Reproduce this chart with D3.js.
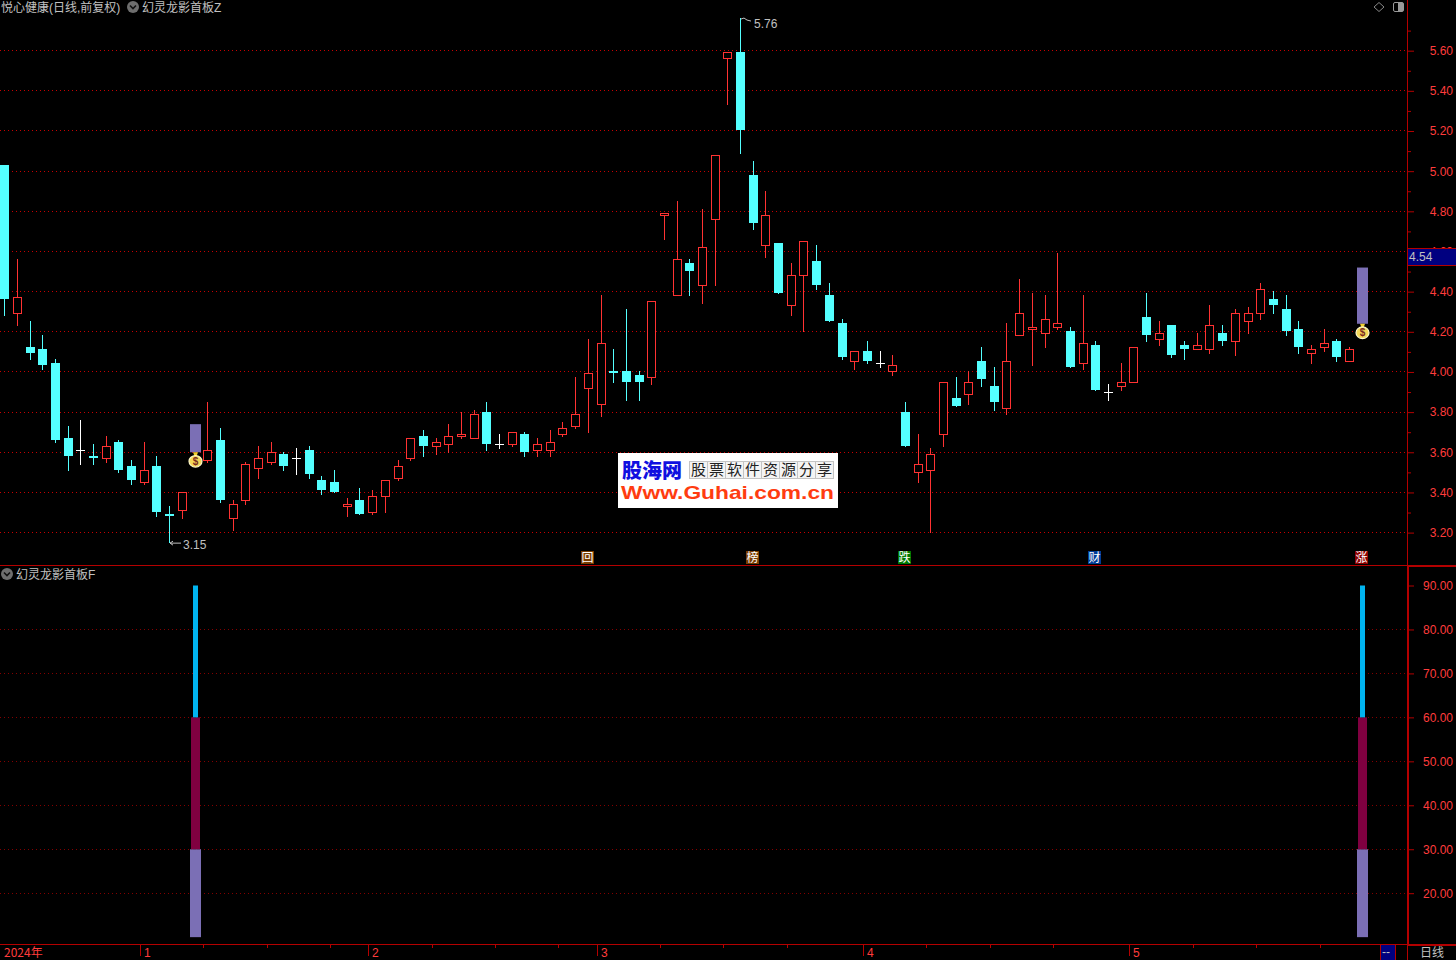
<!DOCTYPE html>
<html><head><meta charset="utf-8">
<script src="https://cdn.jsdelivr.net/npm/d3@7/dist/d3.min.js"></script>
<style>
html,body{margin:0;padding:0;background:#000;overflow:hidden}
svg{display:block}
text{font-family:"Liberation Sans","Noto Sans CJK SC",sans-serif;font-size:12px}
.cjk{font-family:"Noto Sans CJK SC",sans-serif}
</style></head><body>
<svg id="c" width="1456" height="960"></svg>
<script>
const stockTitle="悦心健康(日线,前复权)", upperName="幻灵龙影首板Z", lowerName="幻灵龙影首板F";
const opens=[5.03,4.29,4.12,4.11,4.04,3.67,3.61,3.58,3.57,3.65,
3.53,3.45,3.53,3.29,3.31,null,3.56,3.66,3.27,3.36,
3.52,3.55,3.59,3.57,3.61,3.46,3.45,3.33,3.36,3.30,
3.38,3.47,3.57,3.68,3.63,3.64,3.68,3.67,3.80,3.64,
3.64,3.69,3.61,3.61,3.69,3.73,3.92,3.84,4.00,4.00,
3.98,3.97,4.78,4.38,4.54,4.43,4.76,5.56,5.59,4.98,
4.63,4.64,4.33,4.48,4.55,4.38,4.24,4.05,4.10,4.04,
4.00,3.80,3.50,3.51,3.69,3.87,3.89,4.05,3.93,3.82,
4.18,4.21,4.19,4.22,4.20,4.04,4.13,3.90,3.93,3.95,
4.27,4.16,4.23,4.13,4.11,4.11,4.19,4.15,4.25,4.29,
4.36,4.31,4.21,4.09,4.12,4.15,4.05];
const closes=[4.36,4.37,4.09,4.03,3.66,3.58,3.61,3.57,3.63,3.51,
3.46,3.51,3.30,3.28,3.40,null,3.61,3.36,3.34,3.54,
3.57,3.60,3.53,3.57,3.49,3.41,3.40,3.34,3.29,3.38,
3.46,3.53,3.67,3.63,3.65,3.68,3.69,3.79,3.64,3.64,
3.70,3.60,3.64,3.65,3.72,3.79,3.99,4.14,3.99,3.95,
3.95,4.35,4.79,4.56,4.50,4.62,5.08,5.59,5.20,4.74,
4.78,4.39,4.48,4.65,4.43,4.25,4.07,4.10,4.05,4.04,
4.03,3.63,3.54,3.59,3.95,3.83,3.95,3.96,3.85,4.05,
4.29,4.22,4.26,4.24,4.02,4.14,3.91,3.90,3.95,4.12,
4.18,4.19,4.08,4.11,4.13,4.23,4.15,4.29,4.29,4.41,
4.33,4.20,4.12,4.11,4.14,4.07,4.11];
const highs=[5.03,4.56,4.25,4.18,4.06,3.73,3.76,3.64,3.68,3.66,
3.56,3.65,3.58,3.33,3.40,null,3.85,3.72,3.36,3.55,
3.63,3.65,3.60,3.62,3.63,3.48,3.51,3.37,3.42,3.41,
3.46,3.56,3.67,3.71,3.67,3.74,3.80,3.81,3.85,3.69,
3.70,3.70,3.67,3.71,3.75,3.97,4.16,4.38,4.11,4.31,
4.00,4.35,4.79,4.85,4.56,4.81,5.08,5.59,5.76,5.05,
4.90,4.64,4.54,4.65,4.63,4.44,4.26,4.10,4.15,4.10,
4.08,3.85,3.69,3.62,3.95,3.97,4.00,4.12,4.02,4.24,
4.46,4.39,4.38,4.59,4.22,4.38,4.15,3.94,4.04,4.12,
4.39,4.25,4.23,4.15,4.19,4.33,4.23,4.31,4.32,4.44,
4.40,4.38,4.25,4.13,4.21,4.16,4.12];
const lows=[4.28,4.23,4.06,4.01,3.65,3.51,3.54,3.54,3.55,3.50,
3.44,3.44,3.28,3.15,3.27,null,3.55,3.35,3.21,3.34,
3.47,3.54,3.51,3.49,3.47,3.39,3.40,3.28,3.29,3.29,
3.30,3.46,3.56,3.58,3.59,3.60,3.67,3.67,3.61,3.62,
3.63,3.58,3.58,3.58,3.68,3.72,3.70,3.78,3.95,3.86,
3.86,3.94,4.66,4.38,4.38,4.34,4.43,5.33,5.09,4.71,
4.57,4.39,4.28,4.20,4.41,4.25,4.06,4.01,4.04,4.02,
3.98,3.63,3.45,3.20,3.63,3.83,3.84,3.93,3.81,3.79,
4.18,4.03,4.12,4.21,4.02,4.01,3.91,3.86,3.91,3.95,
4.15,4.13,4.07,4.06,4.11,4.09,4.13,4.08,4.19,4.26,
4.29,4.18,4.09,4.04,4.10,4.05,4.05];
const signalIdx=[15,107], signalTop=[3.74,4.52], signalBottom=[3.60,4.24];
const lowerBands=[[10,30],[30,60],[60,90]], lowerBandColors=["#7b6fb5","#800040","#00b4f0"], lowerBandWidths=[11,9,5];
const priceTicks=[3.2,3.4,3.6,3.8,4.0,4.2,4.4,4.6,4.8,5.0,5.2,5.4,5.6];
const priceMinor=[3.3,3.5,3.7,3.9,4.1,4.3,4.5,4.7,4.9,5.1,5.3,5.5,5.7];
const lowerTicks=[20,30,40,50,60,70,80,90];
const monthIdx=[11,29,47,68,89], monthLabels=["1","2","3","4","5"];
const weekIdx=[16,21,26,34,39,44,52,57,62,73,78,83,94,99,104];
const badgeIdx=[46,59,71,86,107], badgeText=["回","榜","跌","财","涨"], badgeColors=["#7a3c00","#7a3c00","#007800","#003c96","#8c0000"];
const lastPrice=4.54, lastTagLevel=4.575, hiPrice=5.76, loPrice=3.15;

const RED="#ff3232",CYAN="#54ffff",AX="#b40000",GRAY="#c0c0c0",LAB="#ff3c3c";
const svg=d3.select("#c");
const x=d3.scaleLinear().domain([0,106]).range([4.75,1349.5]);
const y=d3.scaleLinear().domain([3.2,5.6]).range([532.6,50.68]);
const y2=d3.scaleLinear().domain([20,90]).range([893.2,585.5]);
const row=v=>Math.floor(v)+.5;
const left=i=>Math.round(x(i)-4.5);

// grid
svg.append("g").selectAll("line").data(priceTicks).join("line")
 .attr("x1",0).attr("x2",1407).attr("y1",d=>row(y(d))).attr("y2",d=>row(y(d)))
 .attr("stroke","#c80000").attr("stroke-dasharray","1 3");
svg.append("g").selectAll("line").data(lowerTicks.filter(d=>d<90)).join("line")
 .attr("x1",0).attr("x2",1407).attr("y1",d=>row(y2(d))).attr("y2",d=>row(y2(d)))
 .attr("stroke","#840000").attr("stroke-dasharray","1 3");

// candles
const candles=d3.range(opens.length).filter(i=>opens[i]!==null).map(i=>({i,o:opens[i],c:closes[i],h:highs[i],l:lows[i]}));
const col=d=>d.c>d.o?RED:d.c<d.o?CYAN:"#ffffff";
const g=svg.append("g");
g.selectAll("line.w").data(candles).join("line").attr("class","w")
 .attr("x1",d=>left(d.i)+4.5).attr("x2",d=>left(d.i)+4.5)
 .attr("y1",d=>Math.floor(y(d.h))).attr("y2",d=>Math.floor(y(d.l))+1)
 .attr("stroke",col);
g.selectAll("rect.b").data(candles.filter(d=>d.c!==d.o)).join("rect").attr("class","b")
 .each(function(d){
  const t=Math.floor(y(Math.max(d.o,d.c))),b=Math.floor(y(Math.min(d.o,d.c)));
  const s=d3.select(this);
  if(d.c>d.o) s.attr("x",left(d.i)+.5).attr("y",t+.5).attr("width",8).attr("height",Math.max(b-t,1)).attr("fill","#000").attr("stroke",RED);
  else s.attr("x",left(d.i)).attr("y",t).attr("width",9).attr("height",Math.max(b-t,2)).attr("fill",CYAN);
 });
g.selectAll("line.d").data(candles.filter(d=>d.c===d.o)).join("line").attr("class","d")
 .attr("x1",d=>left(d.i)).attr("x2",d=>left(d.i)+9)
 .attr("y1",d=>row(y(d.o))).attr("y2",d=>row(y(d.o))).attr("stroke","#fff");

// signals
const sigX=i=>Math.ceil(x(i)-5.5);
svg.append("g").selectAll("rect").data(signalIdx).join("rect")
 .attr("x",d=>sigX(d)).attr("width",11)
 .attr("y",(d,k)=>y(signalTop[k])).attr("height",(d,k)=>y(signalBottom[k])-y(signalTop[k]))
 .attr("fill","#7b6fb5");
const bag=svg.append("g").selectAll("g").data(signalIdx).join("g")
 .attr("transform",(d,k)=>`translate(${sigX(d)+5.5},${y(signalBottom[k])+8})`);
bag.append("path").attr("d","M-2.5,-8 L2.5,-8 L1,-4 L-1,-4 Z").attr("fill","#f0d030");
bag.append("ellipse").attr("cy",1).attr("rx",6.5).attr("ry",5.8).attr("fill","#f4d858").attr("stroke","#fff8c8").attr("stroke-width",1.2);
bag.append("text").attr("y",4.5).attr("text-anchor","middle").attr("fill","#7a2c20").style("font-size","10px").style("font-weight","bold").text("$");

// lower bars
lowerBands.forEach((b,k)=>{
 svg.append("g").selectAll("rect").data(signalIdx).join("rect")
  .attr("x",d=>sigX(d)+5.5-lowerBandWidths[k]/2).attr("width",lowerBandWidths[k])
  .attr("y",y2(b[1])).attr("height",y2(b[0])-y2(b[1])).attr("fill",lowerBandColors[k]);
});

// hi/lo annotations
const ann=svg.append("g");
ann.append("path").attr("d",`M${left(58)+5},${y(hiPrice)+.5} l3,-1 l3,2 l4,1`).attr("stroke",GRAY).attr("fill","none");
ann.append("text").attr("x",754).attr("y",y(hiPrice)+9.5).attr("fill",GRAY).text(hiPrice.toFixed(2));
ann.append("path").attr("d",`M${left(13)+5},${y(loPrice)+.5} h11 M${left(13)+5},${y(loPrice)+.5} l3,-2 M${left(13)+5},${y(loPrice)+.5} l3,2`).attr("stroke",GRAY).attr("fill","none");
ann.append("text").attr("x",183).attr("y",y(loPrice)+6).attr("fill",GRAY).text(loPrice.toFixed(2));

// badges
const bd=svg.append("g").selectAll("g").data(badgeIdx).join("g").attr("transform",d=>`translate(${left(d)-3},551)`);
bd.append("rect").attr("width",13).attr("height",13).attr("fill",(d,k)=>badgeColors[k]);
bd.append("text").attr("class","cjk").attr("x",6.5).attr("y",11).attr("text-anchor","middle").attr("fill","#fff").style("font-size","12px").text((d,k)=>badgeText[k]);

// frame lines
const fr=svg.append("g").attr("stroke",AX).attr("shape-rendering","crispEdges");
fr.append("line").attr("x1",0).attr("x2",1408).attr("y1",565.5).attr("y2",565.5);
fr.append("line").attr("x1",1407).attr("x2",1456).attr("y1",565.5).attr("y2",565.5).attr("stroke-width",2);
fr.append("line").attr("x1",1407.5).attr("x2",1407.5).attr("y1",0).attr("y2",565);
fr.append("line").attr("x1",1408).attr("x2",1408).attr("y1",565).attr("y2",944).attr("stroke-width",2);
fr.append("line").attr("x1",0).attr("x2",1407).attr("y1",944.5).attr("y2",944.5);
fr.append("line").attr("x1",1407).attr("x2",1456).attr("y1",944.5).attr("y2",944.5).attr("stroke-width",2);
fr.append("line").attr("x1",1407.5).attr("x2",1407.5).attr("y1",945).attr("y2",960);

// axes
function style(sel){
 sel.select(".domain").remove();
 sel.selectAll(".tick line").attr("stroke",AX);
 sel.selectAll(".tick text").attr("x",45).attr("text-anchor","end").attr("fill",LAB).attr("font-family",null).attr("font-size",null);
}
svg.append("g").attr("transform","translate(1408,0)")
 .call(d3.axisRight(y).tickValues(priceTicks).tickSize(6).tickFormat(d=>d.toFixed(2))).call(style);
svg.append("g").attr("transform","translate(1408,0)")
 .call(d3.axisRight(y).tickValues(priceMinor).tickSize(3).tickFormat("")).call(style);
svg.append("g").attr("transform","translate(1408,0)")
 .call(d3.axisRight(y2).tickValues(lowerTicks).tickSize(6).tickFormat(d=>d.toFixed(2))).call(style);

// price tag
const tag=svg.append("g");
const tagY=Math.round(y(lastTagLevel));
tag.append("rect").attr("x",1408).attr("y",tagY-8).attr("width",48).attr("height",16).attr("fill","#000080");
tag.append("line").attr("x1",1408).attr("x2",1456).attr("y1",tagY-8.5).attr("y2",tagY-8.5).attr("stroke",AX);
tag.append("line").attr("x1",1408).attr("x2",1456).attr("y1",tagY+8.5).attr("y2",tagY+8.5).attr("stroke",AX);
tag.append("text").attr("x",1409).attr("y",tagY+4).attr("fill",GRAY).text(lastPrice.toFixed(2));

// time axis
const tax=svg.append("g");
tax.selectAll("line.m").data(monthIdx).join("line").attr("class","m")
 .attr("x1",d=>left(d)+.5).attr("x2",d=>left(d)+.5).attr("y1",945).attr("y2",956).attr("stroke",AX);
tax.selectAll("line.k").data(weekIdx).join("line").attr("class","k")
 .attr("x1",d=>left(d)+.5).attr("x2",d=>left(d)+.5).attr("y1",945).attr("y2",948).attr("stroke",AX);
tax.selectAll("text").data(monthLabels).join("text").attr("x",(d,k)=>left(monthIdx[k])+4).attr("y",957).attr("fill",LAB).text(d=>d);
tax.append("text").attr("class","cjk").attr("x",4).attr("y",957).attr("fill",LAB).text("2024年");
tax.append("rect").attr("x",1381).attr("y",945).attr("width",14).attr("height",15).attr("fill","#000080");
tax.append("line").attr("x1",1380.5).attr("x2",1380.5).attr("y1",945).attr("y2",960).attr("stroke",AX);
tax.append("line").attr("x1",1395.5).attr("x2",1395.5).attr("y1",945).attr("y2",960).attr("stroke",AX);
tax.append("text").attr("x",1382).attr("y",956).attr("fill",GRAY).text("--");
tax.append("text").attr("class","cjk").attr("x",1420).attr("y",957).attr("fill",GRAY).text("日线");

// titles
function chevron(cx,cy){
 const c=svg.append("g").attr("transform",`translate(${cx},${cy})`);
 c.append("circle").attr("r",6).attr("fill","#6e6e6e");
 c.append("path").attr("d","M-3,-1.5 L0,1.5 L3,-1.5").attr("stroke","#111").attr("stroke-width",1.6).attr("fill","none");
}
svg.append("text").attr("x",1).attr("y",12).attr("fill",GRAY).text(stockTitle);
chevron(133,7);
svg.append("text").attr("x",142).attr("y",12).attr("fill",GRAY).text(upperName);
chevron(7,574);
svg.append("text").attr("x",16).attr("y",579).attr("fill",GRAY).text(lowerName);
svg.append("path").attr("d","M1379,2.5 L1384,7 L1379,11.5 L1374,7 Z").attr("fill","none").attr("stroke","#888");
svg.append("rect").attr("x",1393.5).attr("y",2.5).attr("width",10).attr("height",9).attr("rx",1.5).attr("fill","none").attr("stroke","#999");
svg.append("rect").attr("x",1398).attr("y",3).attr("width",5).attr("height",8).attr("fill","#999");

// watermark
const wm=svg.append("g");
wm.append("rect").attr("x",618).attr("y",453).attr("width",220).attr("height",55).attr("fill","#fff");
wm.append("text").attr("class","cjk").attr("x",622).attr("y",478).attr("fill","#1010e0").attr("textLength",60).style("font-size","20px").style("font-weight","900").text("股海网");
const share="股票软件资源分享".split("");
wm.selectAll("rect.cell").data(share).join("rect").attr("class","cell")
 .attr("x",(d,k)=>689.5+k*18).attr("y",461.5).attr("width",18).attr("height",17).attr("fill","#f4f4f4").attr("stroke","#c4c4c4");
wm.selectAll("text.cell").data(share).join("text").attr("class","cell cjk")
 .attr("x",(d,k)=>698.5+k*18).attr("y",475).attr("text-anchor","middle").attr("fill","#222").style("font-size","15px").text(d=>d);
wm.append("text").attr("x",621).attr("y",499).attr("fill","#ff3c10").attr("textLength",213).attr("lengthAdjust","spacingAndGlyphs")
 .style("font-size","19px").style("font-weight","bold").text("Www.Guhai.com.cn");
</script>
</body></html>
